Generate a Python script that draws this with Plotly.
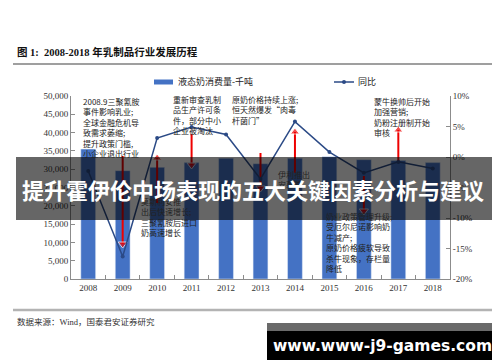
import plotly.graph_objects as go

# ---------------- data ----------------
years = ["2008", "2009", "2010", "2011", "2012", "2013", "2014", "2015", "2016", "2017", "2018"]
consumption = [35500, 29600, 30500, 31800, 33000, 31500, 33000, 33400, 32600, 32400, 31800]
yoy = [-2.3, -16.3, 3.1, 4.9, 3.7, -3.6, 5.8, 0.8, -2.6, -0.8, -1.9]

left_ticks = [0, 5000, 10000, 15000, 20000, 25000, 30000, 35000, 40000, 45000, 50000]
right_ticks = [-20, -15, -10, -5, 0, 5, 10]
right_tick_labels = ["-20%", "-15%", "-10%", "-5%", "0%", "5%", "10%"]

bar_name = "液态奶消费量-千吨"
line_name = "同比"

# event arrows: (year, start value, end value) on left axis
arrows = [
    ("2009", 33600, 9560),
    ("2010", 20770, 33060),
    ("2011", 39620, 31150),
    ("2013", 34430, 24860),
    ("2014", 28960, 40160),
    ("2016", 28140, 18580),
    ("2017", 32240, 40710),
]

notes = [
    (73, 86, "2008.9三聚氰胺<br>事件影响乳业;<br>全球金融危机导<br>致需求萎缩;<br>提升政策门槛,<br>小企业退出行业"),
    (163, 84, "重新审查乳制<br>品生产许可条<br>件，部分中小<br>企业被淘汰"),
    (222, 84, "原奶价格持续上涨;<br>恒天然爆发“肉毒<br>杆菌门”"),
    (364, 86, "蒙牛换帅后开始<br>加强营销;<br>奶粉注册制开始<br>审核"),
    (268, 159, "伊利推出<br>安慕希"),
    (131, 186, "莫斯利安推<br>出后快速增长;<br>三聚氰胺后进口<br>奶高速增长"),
    (316, 201, "奶业政策管理升级;<br>受厄尔尼诺影响奶<br>牛减产;<br>原奶价格疲软导致<br>杀牛现象，存栏量<br>降低"),
]

title_text = "<b>图 1:  2008-2018 年乳制品行业发展历程</b>"
source_text = "数据来源：Wind，国泰君安证券研究"
banner_text = "提升霍伊伦中场表现的五大关键因素分析与建议"
watermark_text = "www.www-j9-games.com"

# ---------------- layout geometry ----------------
W, H = 500, 362
L, R, T, B = 63, 442, 88, 271


def px(x):
    return (x - L) / (R - L)


def py(y):
    return (B - y) / (B - T)


SERIF = "Liberation Serif, Noto Sans CJK SC"
CJK = "Noto Sans CJK SC"

fig = go.Figure()

fig.add_trace(go.Bar(
    x=years, y=consumption, name=bar_name, marker_color="#4472C4",
    width=0.43, showlegend=False,
))
fig.add_trace(go.Scatter(
    x=years, y=yoy, name=line_name, yaxis="y2", mode="lines+markers",
    line=dict(color="#2B4A86", width=1.5),
    marker=dict(color="#2B4A86", size=4), showlegend=False,
))
for yr, y0, y1 in arrows:
    sym = "triangle-down" if y1 < y0 else "triangle-up"
    fig.add_trace(go.Scatter(
        x=[yr, yr], y=[y0, y1], mode="lines+markers",
        line=dict(color="#EE0000", width=2),
        marker=dict(symbol=["line-ew", sym], size=[0, 8], color="#EE0000"),
        showlegend=False, hoverinfo="skip",
    ))

shapes = [
    dict(type="line", xref="paper", yref="paper", x0=px(5), x1=px(495), y0=py(56), y1=py(56),
         line=dict(color="#7F7F7F", width=1.5)),
    dict(type="line", xref="paper", yref="paper", x0=px(5), x1=px(495), y0=py(302), y1=py(302),
         line=dict(color="#B3B3B3", width=2.5)),
    dict(type="rect", xref="paper", yref="paper", x0=px(146), x1=px(165), y0=py(76.5), y1=py(71.5),
         fillcolor="#4472C4", line=dict(width=0)),
    dict(type="line", xref="paper", yref="paper", x0=px(326), x1=px(346), y0=py(74), y1=py(74),
         line=dict(color="#2B4A86", width=1.5)),
    dict(type="circle", xref="paper", yref="paper", x0=px(334), x1=px(338), y0=py(76), y1=py(72),
         fillcolor="#2B4A86", line=dict(width=0)),
    dict(type="rect", xref="paper", yref="paper", x0=px(8), x1=px(492), y0=py(212), y1=py(149),
         fillcolor="rgba(0,0,0,0.6)", line=dict(width=0), layer="above"),
    dict(type="rect", xref="paper", yref="paper", x0=px(259), x1=px(491), y0=py(323), y1=py(315),
         fillcolor="#6A6A6A", line=dict(width=0), layer="above"),
    dict(type="rect", xref="paper", yref="paper", x0=px(259), x1=px(491), y0=py(352), y1=py(323),
         fillcolor="#000000", line=dict(width=0), layer="above"),
]

annotations = [
    dict(text=title_text, x=px(7), y=py(44), xref="paper", yref="paper", xanchor="left", yanchor="middle",
         showarrow=False, font=dict(family=SERIF, size=10.5, color="#111")),
    dict(text=source_text, x=px(7), y=py(314), xref="paper", yref="paper", xanchor="left", yanchor="middle",
         showarrow=False, font=dict(family=SERIF, size=8.5, color="#333")),
    dict(text=bar_name, x=px(168), y=py(74), xref="paper", yref="paper", xanchor="left", yanchor="middle",
         showarrow=False, font=dict(family=SERIF, size=9, color="#222")),
    dict(text=line_name, x=px(348), y=py(74), xref="paper", yref="paper", xanchor="left", yanchor="middle",
         showarrow=False, font=dict(family=SERIF, size=9, color="#222")),
]
for x, y, t in notes:
    annotations.append(dict(text=t, x=px(x), y=py(y), xref="paper", yref="paper", xanchor="left",
                            yanchor="top", align="left", showarrow=False,
                            font=dict(family=CJK, size=8, color="#222")))
annotations.append(dict(text="<b>" + banner_text + "</b>", x=px(245), y=py(181), xref="paper", yref="paper",
                        xanchor="center", yanchor="middle", showarrow=False,
                        font=dict(family=CJK, size=22, color="#FFFFFF")))
annotations.append(dict(text="<b>" + watermark_text + "</b>", x=px(374), y=py(338), xref="paper", yref="paper",
                        xanchor="center", yanchor="middle", showarrow=False,
                        font=dict(family="DejaVu Sans", size=15.5, color="#FFFFFF")))

fig.update_layout(
    width=W, height=H,
    margin=dict(l=L, r=W - R, t=T, b=H - B, pad=0),
    paper_bgcolor="white", plot_bgcolor="white",
    showlegend=False,
    shapes=shapes,
    annotations=annotations,
    xaxis=dict(
        type="category", range=[-0.5, 10.5], showline=True, linecolor="#8C8C8C", linewidth=1,
        ticks="inside", ticklen=4, tickcolor="#8C8C8C", tickson="boundaries",
        tickfont=dict(family=SERIF, size=9, color="#333"), showgrid=False, zeroline=False,
    ),
    yaxis=dict(
        range=[0, 50000], tickvals=left_ticks, tickformat=",", showline=True, linecolor="#8C8C8C",
        linewidth=1, ticks="inside", ticklen=4, tickcolor="#8C8C8C",
        tickfont=dict(family=SERIF, size=9, color="#333"), showgrid=False, zeroline=False,
    ),
    yaxis2=dict(
        overlaying="y", side="right", range=[-20, 10], tickvals=right_ticks, ticktext=right_tick_labels,
        showline=True, linecolor="#8C8C8C", linewidth=1, ticks="inside", ticklen=4, tickcolor="#8C8C8C",
        tickfont=dict(family=SERIF, size=9, color="#333"), showgrid=False, zeroline=False,
    ),
)

fig.write_html("out.html")
